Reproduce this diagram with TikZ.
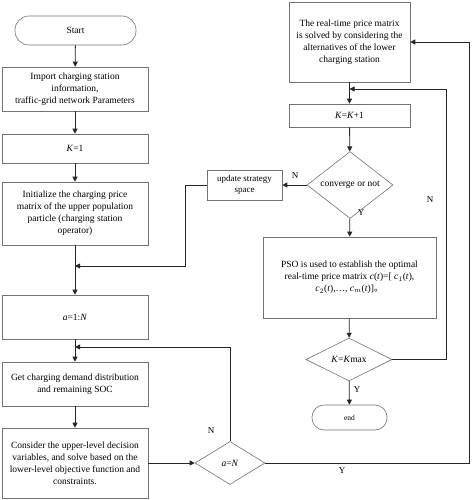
\documentclass[tikz,border=0pt]{standalone}
\usepackage{fontspec}
\setmainfont{Liberation Serif}
\newfontfamily\cjk{Noto Sans CJK SC}
\usetikzlibrary{arrows.meta,shapes.geometric}
\begin{document}
\begin{tikzpicture}[x=1pt,y=-1pt,
  font=\fontsize{9.5}{12}\selectfont,
  box/.style={draw=black!55,line width=0.6pt,rectangle,inner sep=1pt,align=center},
  term/.style={box,rounded corners=12pt},
  dec/.style={draw=black!55,line width=0.6pt,diamond,inner sep=0pt,align=center},
  arr/.style={-{Triangle[length=5pt,width=5pt]},line width=0.8pt,black!85},
  ln/.style={line width=0.8pt,black!85},
  lab/.style={inner sep=0pt,font=\fontsize{9}{10}\selectfont}]
\useasboundingbox (0,0) rectangle (471,500);
\node[term,minimum width=121pt,minimum height=29pt,rounded corners=14pt] (start) at (75.5,30.5) {Start};
\node[box,minimum width=146pt,minimum height=44pt] (import) at (75,89) {Import charging station\\information,\\traffic-grid network Parameters};
\node[box,minimum width=146pt,minimum height=29pt] (k1) at (75,148.5) {\textit{K}=1};
\node[box,minimum width=146pt,minimum height=63pt] (init) at (75,213.5) {Initialize the charging price\\matrix of the upper population\\particle (charging station\\operator)};
\node[box,minimum width=146pt,minimum height=44pt] (a1) at (75,317) {\textit{a}=1:\textit{N}};
\node[box,minimum width=146pt,minimum height=44pt] (get) at (75,384) {Get charging demand distribution\\and remaining SOC};
\node[box,minimum width=146pt,minimum height=70pt] (cons) at (75,463) {Consider the upper-level decision\\variables, and solve based on the\\lower-level objective function and\\constraints.};
\node[dec,minimum width=70pt,minimum height=43pt] (aN) at (230,463) {\textit{a}=\textit{N}};
\node[box,minimum width=121pt,minimum height=80pt] (rt) at (349.5,42) {The real-time price matrix\\is solved by considering the\\alternatives of the lower\\charging station};
\node[box,minimum width=121pt,minimum height=23pt] (kk) at (349.5,115.5) {\textit{K}=\textit{K}+1};
\node[dec,minimum width=86pt,minimum height=44pt] (conv) at (350,185) {converge or not};
\node[box,minimum width=75pt,minimum height=30pt,font=\fontsize{9}{11}\selectfont] (upd) at (244.5,185) {update strategy\\space};
\node[box,minimum width=173pt,minimum height=81pt] (pso) at (349.5,277.5) {PSO is used to establish the optimal\\real-time price matrix \textit{c}(\textit{t})=[ \textit{c}$_1$(\textit{t}),\\\textit{c}$_2$(\textit{t}),\ldots, \textit{c}$_m$(\textit{t})]{\cjk 。}};
\node[dec,minimum width=86pt,minimum height=43pt] (kmax) at (349,359.5) {\textit{K}=\textit{K}max};
\node[term,minimum width=75pt,minimum height=25pt,font=\fontsize{7.5}{9}\selectfont] (end) at (349.5,417.5) {end};
\coordinate (m1) at (75,266);
\coordinate (m2) at (75,347);
\coordinate (m3) at (349.5,89);
\coordinate (c1) at (469,463);
\coordinate (c2) at (446,359.5);
\coordinate (c3) at (185,185);
\draw[arr] (start) -- (import);
\draw[arr] (import) -- (k1);
\draw[arr] (k1) -- (init);
\draw[arr] (init) -- (a1);
\draw[arr] (upd.west) -- (c3) |- (m1);
\draw[arr] (a1) -- (get);
\draw[arr] (aN.north) |- (m2);
\draw[arr] (get) -- (cons);
\draw[arr] (cons.east) -- (aN.west);
\draw[arr] (aN.east) -- (c1) |- (rt.east);
\draw[arr] (rt) -- (kk);
\draw[arr] (kmax.east) -- (c2) |- (m3);
\draw[arr] (kk) -- (conv);
\draw[arr] (conv.west) -- (upd.east);
\draw[arr] (conv) -- (pso);
\draw[arr] (pso) -- (kmax);
\draw[arr] (kmax) -- (end);
\node[lab] (l1) at (295,176) {N};
\node[lab] (l2) at (361,213) {Y};
\node[lab] (l3) at (430,200) {N};
\node[lab] (l4) at (357,390) {Y};
\node[lab] (l5) at (211,431) {N};
\node[lab] (l6) at (342,471) {Y};
\end{tikzpicture}
\end{document}
